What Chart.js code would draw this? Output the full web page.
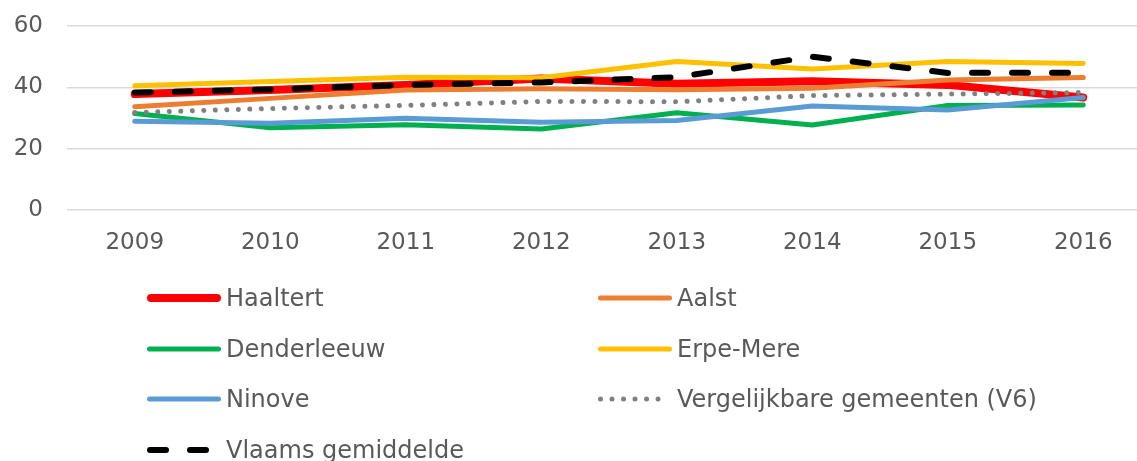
<!DOCTYPE html>
<html>
<head>
<meta charset="utf-8">
<script src="https://cdn.jsdelivr.net/npm/chart.js@4"></script>
<style>
  html, body { margin:0; padding:0; background:#fff; overflow:hidden; width:1137px; height:461px; }
  #wrap { position:absolute; left:0; top:0; width:1152px; height:270px; }
  #legend { position:absolute; left:0; top:0; width:1137px; height:461px; }
  .item { position:absolute; display:flex; align-items:center; height:30px; margin-top:-15px;
          font-family:'DejaVu Sans'; font-size:24px; color:#595959; white-space:nowrap; }
  .item svg { margin-right:5px; }
</style>
</head>
<body>
<div id="wrap"><canvas id="lineChart"></canvas></div>
<div id="legend"></div>
<script>
// data
var years = ["2009","2010","2011","2012","2013","2014","2015","2016"];
var haaltert    = [37.8, 39.1, 40.8, 42.9, 41.2, 42.0, 40.8, 36.7];
var aalst       = [33.7, 36.4, 39.1, 39.5, 39.2, 39.7, 42.4, 43.2];
var denderleeuw = [31.5, 26.8, 27.8, 26.4, 31.7, 27.7, 34.1, 34.2];
var erpeMere    = [40.5, 41.9, 43.3, 43.1, 48.4, 46.0, 48.4, 47.8];
var ninove      = [28.9, 28.3, 29.9, 28.6, 29.2, 33.9, 32.6, 36.7];
var v6          = [31.8, 33.1, 34.1, 35.4, 35.3, 37.3, 37.8, 38.3];
var vlaams      = [38.3, 39.3, 40.8, 41.6, 43.3, 50.0, 44.7, 44.8];
var yTicks = [0, 20, 40, 60];

var txt = "#595959";
var font = "'DejaVu Sans', Verdana, sans-serif";

function line(label, data, color, width, dash, order) {
  return {
    label: label,
    data: data,
    borderColor: color,
    backgroundColor: color,
    borderWidth: width,
    borderDash: dash || [],
    borderCapStyle: "round",
    borderJoinStyle: "round",
    pointRadius: 0,
    tension: 0,
    fill: false,
    order: order
  };
}

var datasets = [
  line("Haaltert", haaltert, "#ff0000", 8, null, 7),
  line("Aalst", aalst, "#ed7d31", 5, null, 6),
  line("Denderleeuw", denderleeuw, "#00b050", 5, null, 5),
  line("Erpe-Mere", erpeMere, "#ffc000", 5, null, 4),
  line("Ninove", ninove, "#5b9bd5", 5, null, 3),
  line("Vergelijkbare gemeenten (V6)", v6, "#808080", 5, [0.01, 11.5], 2),
  line("Vlaams gemiddelde", vlaams, "#000000", 6, [16, 24], 1)
];

new Chart("lineChart", {
  type: "line",
  data: { labels: years, datasets: datasets },
  options: {
    responsive: true,
    maintainAspectRatio: false,
    animation: false,
    layout: { padding: { top: 26, right: 1, left: 0, bottom: 0 } },
    plugins: { legend: { display: false }, tooltip: { enabled: false } },
    scales: {
      x: {
        offset: true,
        grid: { display: false },
        border: { display: false },
        ticks: { color: txt, font: { family: font, size: 23 }, padding: 11 },
        afterFit: function (s) { s.height = 60; s.paddingLeft = 0; s.paddingRight = 0; }
      },
      y: {
        min: 0,
        max: 60,
        afterBuildTicks: function (s) { s.ticks = yTicks.map(function (v) { return { value: v }; }); },
        grid: { color: "#d9d9d9", lineWidth: 1.5, drawTicks: false },
        border: { display: false },
        ticks: { color: txt, font: { family: font, size: 23 }, padding: 24 },
        afterFit: function (s) { s.width = 67; s.paddingTop = 0; s.paddingBottom = 0; }
      }
    }
  }
});

// two-column legend like the original
var legend = document.getElementById("legend");
datasets.forEach(function (ds, i) {
  var col = i % 2, row = Math.floor(i / 2);
  var item = document.createElement("div");
  item.className = "item";
  item.style.left = (147 + col * 451) + "px";
  item.style.top = (298 + row * 50.7) + "px";
  var w = 74, lw = ds.borderWidth;
  var dash = ds.borderDash.length ? ' stroke-dasharray="' + ds.borderDash.join(" ") + '"' : "";
  item.innerHTML =
    '<svg width="' + w + '" height="14"><line x1="' + (lw / 2) + '" y1="7" x2="' + (w - lw / 2) +
    '" y2="7" stroke="' + ds.borderColor + '" stroke-width="' + lw + '" stroke-linecap="round"' + dash +
    '/></svg><span>' + ds.label + '</span>';
  legend.appendChild(item);
});
</script>
</body>
</html>
